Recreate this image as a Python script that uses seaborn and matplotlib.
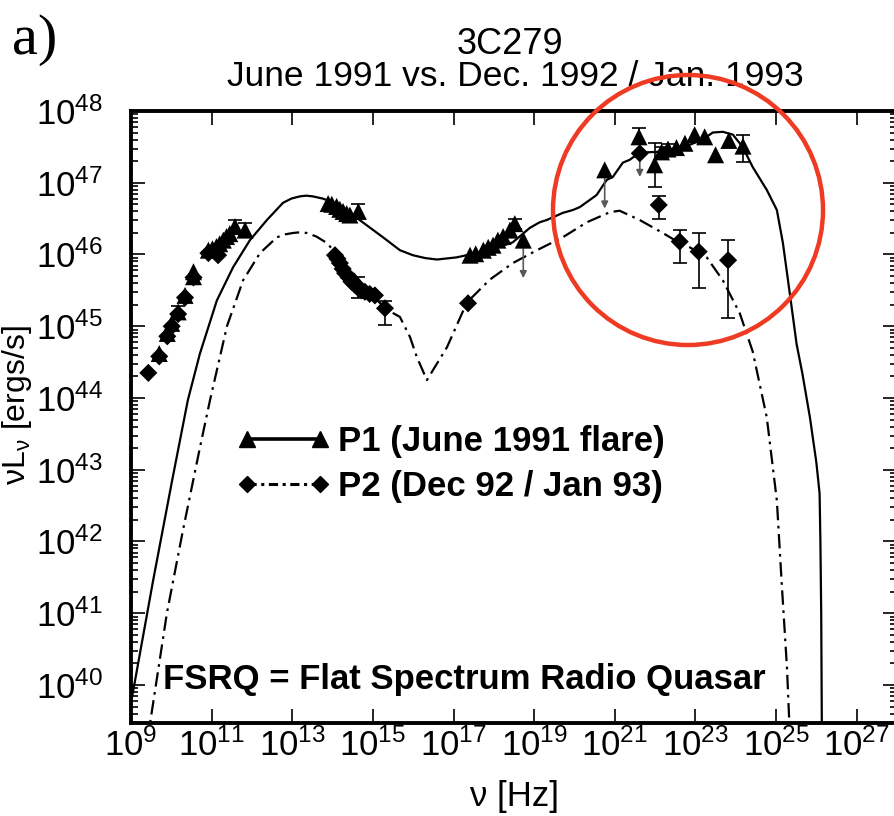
import numpy as np
import pandas as pd
import matplotlib
matplotlib.use('Agg')
import matplotlib.pyplot as plt
import seaborn as sns
from matplotlib.lines import Line2D
from matplotlib.patches import Ellipse
from matplotlib.ticker import FixedLocator, FixedFormatter, LogLocator, NullLocator, NullFormatter

# model curves, log10(nu) / log10(nu L_nu)
p1_model_lognu = [9.0, 9.55, 10.02, 10.41, 10.71, 11.13, 11.53, 11.95, 12.37, 12.77, 12.98, 13.19,
                  13.35, 13.51, 13.75, 14.01, 14.60, 15.25, 15.67, 15.99, 16.30, 16.59, 17.08, 17.48,
                  17.90, 18.47, 18.89, 19.14, 19.31, 19.71, 19.96, 20.13, 20.38, 20.55, 20.80, 20.95,
                  21.20, 21.37, 21.62, 22.04, 22.44, 22.86, 23.18, 23.43, 23.68, 23.93, 24.17, 24.42,
                  24.77, 25.02, 25.17, 25.34, 25.51, 25.65, 25.84, 26.00, 26.08, 26.10, 26.12, 26.14]
p1_model_logL = [39.75, 41.46, 42.85, 43.97, 44.62, 45.36, 45.82, 46.20, 46.48, 46.72, 46.78, 46.81,
                 46.82, 46.81, 46.78, 46.73, 46.51, 46.24, 46.06, 45.99, 45.95, 45.93, 45.96, 46.01,
                 46.06, 46.17, 46.37, 46.45, 46.48, 46.58, 46.62, 46.66, 46.76, 46.83, 47.04, 47.08,
                 47.28, 47.32, 47.42, 47.43, 47.47, 47.53, 47.60, 47.70, 47.71, 47.67, 47.50, 47.22,
                 46.90, 46.62, 46.16, 45.46, 44.75, 44.35, 43.73, 43.10, 42.67, 42.00, 41.00, 39.00]

p2_model_lognu = [9.40, 9.89, 10.29, 10.71, 10.96, 11.38, 11.78, 12.20, 12.62, 12.82, 13.02, 13.20,
                  13.36, 13.60, 13.86, 14.50, 15.00, 15.35, 15.67, 15.92, 16.09, 16.34, 16.84, 17.33,
                  17.90, 18.47, 19.07, 19.71, 20.31, 20.88, 21.12, 21.62, 22.19, 22.61, 22.86, 23.28,
                  23.68, 24.10, 24.42, 24.77, 25.02, 25.14, 25.27, 25.35]
p2_model_logL = [39.20, 41.00, 42.16, 43.31, 43.97, 45.00, 45.64, 46.02, 46.24, 46.28, 46.30, 46.31,
                 46.30, 46.25, 46.16, 45.75, 45.42, 45.23, 45.13, 44.85, 44.57, 44.25, 44.71, 45.33,
                 45.65, 45.88, 46.06, 46.24, 46.45, 46.59, 46.61, 46.48, 46.30, 46.16, 46.10, 45.96,
                 45.64, 45.18, 44.65, 43.73, 42.57, 41.42, 40.25, 39.20]

# P1 (June 1991 flare) detections
p1_lognu = [9.70, 9.90, 10.01, 10.17, 10.34, 10.55, 10.55, 10.92, 11.02, 11.12, 11.20, 11.29, 11.37,
            11.45, 11.58, 11.83,
            13.89, 13.98, 14.10, 14.18, 14.26, 14.35, 14.43, 14.64,
            17.41, 17.55, 17.74, 17.86, 17.98, 18.10, 18.23, 18.40, 18.52,
            21.60, 21.99, 22.16, 22.32, 22.53, 22.74, 22.98, 23.23, 23.50, 23.83, 24.18]
p1_logL = [44.62, 44.90, 45.04, 45.20, 45.43, 45.69, 45.76, 46.06, 46.08, 46.11, 46.15, 46.20, 46.25,
           46.29, 46.39, 46.34,
           46.71, 46.70, 46.67, 46.63, 46.60, 46.57, 46.55, 46.60,
           45.99, 46.01, 46.06, 46.10, 46.13, 46.20, 46.25, 46.34, 46.43,
           47.64, 47.25, 47.43, 47.47, 47.49, 47.55, 47.67, 47.64, 47.39, 47.59, 47.51]

# P1 points with error bars: log nu, value, low end, high end
p1_err_lognu = [10.17, 11.58, 11.83, 14.64, 18.52, 21.60, 21.99, 22.16, 22.32, 24.18]
p1_err_val = [45.20, 46.39, 46.34, 46.60, 46.43, 47.64, 47.25, 47.43, 47.47, 47.51]
p1_err_lo = [45.12, 46.30, 46.26, 46.52, 46.36, 47.55, 46.94, 47.36, 47.40, 47.29]
p1_err_hi = [45.28, 46.48, 46.44, 46.70, 46.50, 47.76, 47.55, 47.50, 47.54, 47.67]

# P1 upper limits: log nu, marker value, arrow tip
p1_ul_lognu = [18.73, 20.75]
p1_ul_logL = [46.20, 47.18]
p1_ul_tip = [45.67, 46.64]

# P2 (Dec 92 / Jan 93) detections
p2_lognu = [9.43, 9.70, 9.90, 10.01, 10.17, 10.34, 10.55, 10.92, 11.16,
            14.06, 14.12, 14.18, 14.25, 14.31, 14.40, 14.47, 14.55, 14.64, 14.72, 14.80, 14.92,
            15.05, 15.30,
            17.36,
            22.09, 22.61, 23.08, 23.81]
p2_logL = [44.35, 44.58, 44.86, 45.00, 45.17, 45.40, 45.68, 46.02, 45.99,
           45.99, 45.94, 45.88, 45.80, 45.74, 45.68, 45.62, 45.58, 45.53, 45.50, 45.48, 45.45,
           45.43, 45.25,
           45.32,
           46.69, 46.18, 46.04, 45.92]

p2_err_lognu = [14.64, 15.30, 22.09, 22.61, 23.08, 23.81]
p2_err_val = [45.53, 45.25, 46.69, 46.18, 46.04, 45.92]
p2_err_lo = [45.39, 45.02, 46.50, 45.88, 45.53, 45.11]
p2_err_hi = [45.69, 45.35, 46.81, 46.34, 46.30, 46.20]

p2_ul_lognu = [21.62]
p2_ul_logL = [47.41]
p2_ul_tip = [47.08]

x_tick_exp = [9, 11, 13, 15, 17, 19, 21, 23, 25, 27]
y_tick_exp = [40, 41, 42, 43, 44, 45, 46, 47, 48]

legend_labels = ['P1 (June 1991 flare)', 'P2 (Dec 92 / Jan 93)']


def to_lin(v):
    return np.power(10.0, np.asarray(v, dtype=float))


sns.set_theme(style='ticks')
plt.rcParams['font.family'] = ['Liberation Sans', 'DejaVu Sans']
plt.rcParams['mathtext.fontset'] = 'custom'
plt.rcParams['mathtext.rm'] = 'Liberation Sans'
plt.rcParams['mathtext.it'] = 'Liberation Sans:italic'
plt.rcParams['text.color'] = 'black'
plt.rcParams['axes.labelcolor'] = 'black'
plt.rcParams['xtick.color'] = 'black'
plt.rcParams['ytick.color'] = 'black'

W, H = 894, 816
fig = plt.figure(figsize=(W / 100, H / 100), dpi=100)
ax = fig.add_axes([131 / W, 1 - 723 / H, (897 - 131) / W, (723 - 111) / H])
ax.set_xscale('log')
ax.set_yscale('log')

m1 = pd.DataFrame({'nu': to_lin(p1_model_lognu), 'L': to_lin(p1_model_logL)})
m2 = pd.DataFrame({'nu': to_lin(p2_model_lognu), 'L': to_lin(p2_model_logL)})
sns.lineplot(data=m1, x='nu', y='L', ax=ax, color='black', lw=1.6, sort=False, estimator=None)
sns.lineplot(data=m2, x='nu', y='L', ax=ax, color='black', lw=1.6, sort=False, estimator=None,
             linestyle=(0, (6.5, 2.5, 1.2, 2.5)))

# upper limits
for xs, ys, tips in [(p1_ul_lognu, p1_ul_logL, p1_ul_tip), (p2_ul_lognu, p2_ul_logL, p2_ul_tip)]:
    for a, b, c in zip(xs, ys, tips):
        ax.annotate('', xy=(10 ** a, 10 ** c), xytext=(10 ** a, 10 ** b),
                    arrowprops=dict(arrowstyle='-|>', color='0.35', lw=1.2, mutation_scale=10,
                                    shrinkA=0, shrinkB=0))

# error bars
for xs, vs, lo, hi in [(p1_err_lognu, p1_err_val, p1_err_lo, p1_err_hi),
                       (p2_err_lognu, p2_err_val, p2_err_lo, p2_err_hi)]:
    v = to_lin(vs)
    ax.errorbar(to_lin(xs), v, yerr=[v - to_lin(lo), to_lin(hi) - v], fmt='none',
                ecolor='black', elinewidth=1.2, capsize=5, capthick=1.2)

d1 = pd.DataFrame({'nu': to_lin(p1_lognu + p1_ul_lognu), 'L': to_lin(p1_logL + p1_ul_logL)})
d2 = pd.DataFrame({'nu': to_lin(p2_lognu + p2_ul_lognu), 'L': to_lin(p2_logL + p2_ul_logL)})
sns.scatterplot(data=d2, x='nu', y='L', ax=ax, marker='D', s=85, color='black', edgecolor='none', zorder=4)
sns.scatterplot(data=d1, x='nu', y='L', ax=ax, marker='^', s=150, color='black', edgecolor='none', zorder=5)

ax.set_xlim(1e9, 1e28)
ax.set_ylim(10 ** 39.47, 1e48)

ax.xaxis.set_major_locator(FixedLocator(to_lin(x_tick_exp)))
ax.xaxis.set_major_formatter(FixedFormatter([r'$\mathdefault{10^{%d}}$' % e for e in x_tick_exp]))
ax.xaxis.set_minor_locator(NullLocator())
ax.yaxis.set_major_locator(FixedLocator(to_lin(y_tick_exp)))
ax.yaxis.set_major_formatter(FixedFormatter([r'$\mathdefault{10^{%d}}$' % e for e in y_tick_exp]))
ax.yaxis.set_minor_locator(LogLocator(base=10, subs=np.arange(2, 10), numticks=30))
ax.yaxis.set_minor_formatter(NullFormatter())

ax.tick_params(which='both', direction='in', top=True, right=True, colors='black', width=1.2)
ax.tick_params(which='major', length=10, labelsize=25)
ax.tick_params(which='minor', length=5)
ax.tick_params(axis='y', which='major', pad=20)
ax.tick_params(axis='x', which='major', pad=4)
for sp in ax.spines.values():
    sp.set_linewidth(2.8)
    sp.set_color('black')

ax.set_xlabel('ν [Hz]', fontsize=25, labelpad=12, color='black')
ax.set_ylabel('')
fig.text(17 / W, 1 - 405 / H, r'$\mathregular{νL_ν}$ [ergs/s]', rotation=90, ha='center', va='center',
         fontsize=23)

# legend: one single-row legend per period so both rows line up exactly
handles = [Line2D([], [], color='black', lw=2.6, marker='^', ms=12),
           Line2D([], [], color='black', lw=2.2, marker='D', ms=8, linestyle=(0, (3, 1.5, 1, 1.5)))]
leg_kw = dict(loc='upper left', bbox_transform=fig.transFigure, frameon=False, numpoints=2,
              handlelength=2.7, handletextpad=0.2, borderpad=0, borderaxespad=0,
              prop=dict(weight='bold', size=25))
leg1 = ax.legend([handles[0]], [legend_labels[0]], bbox_to_anchor=(237 / W, 1 - 425 / H), **leg_kw)
ax.add_artist(leg1)
ax.legend([handles[1]], [legend_labels[1]], bbox_to_anchor=(237 / W, 1 - 470 / H), **leg_kw)

fig.text(163 / W, 1 - 680 / H, 'FSRQ = Flat Spectrum Radio Quasar', fontsize=25, fontweight='bold',
         va='center', ha='left')

fig.text(510 / W, 1 - 44 / H, '3C279', fontsize=26, ha='center', va='center')
fig.text(515 / W, 1 - 76 / H, 'June 1991 vs. Dec. 1992 / Jan. 1993', fontsize=25.5, ha='center', va='center')
fig.text(12 / W, 1 - 40 / H, 'a)', fontsize=42, family='Liberation Serif', ha='left', va='center')

fig.patches.append(Ellipse((688 / W, 1 - 210 / H), 270 / W, 270 / H, transform=fig.transFigure,
                           fill=False, edgecolor='#ef3b24', lw=3.2, zorder=10))

fig.savefig('out.png', dpi=100, facecolor='white')
